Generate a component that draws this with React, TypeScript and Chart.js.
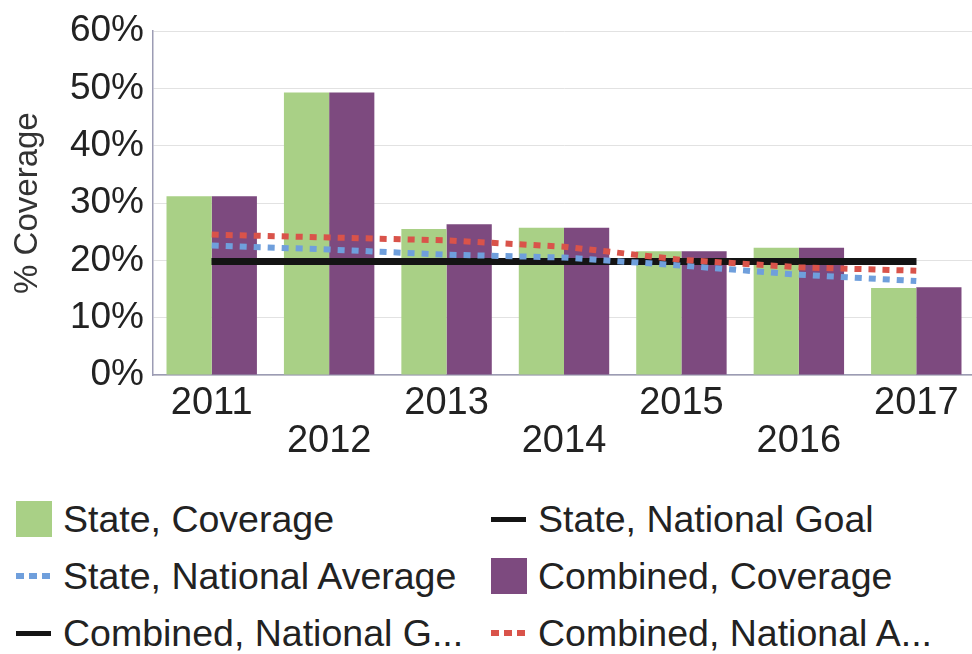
import React, { useEffect, useRef } from 'react';
import { Chart, registerables } from 'chart.js';
Chart.register(...registerables);

const years = ['2011', '2012', '2013', '2014', '2015', '2016', '2017'];
const stateCoverage = [31.2, 49.3, 25.5, 25.7, 21.6, 22.2, 15.2];
const combinedCoverage = [31.2, 49.3, 26.3, 25.7, 21.6, 22.2, 15.3];
const stateGoal = [19.8, 19.8, 19.8, 19.8, 19.8, 19.8, 19.8];
const combinedGoal = [19.8, 19.8, 19.8, 19.8, 19.8, 19.8, 19.8];
const stateAverage = [22.6, 21.9, 21.0, 20.5, 19.1, 17.5, 16.4];
const combinedAverage = [24.5, 24.0, 23.5, 22.4, 20.1, 18.8, 18.2];
const yMin = 0;
const yMax = 60;
const yStep = 10;

const legendItems = [
  { label: 'State, Coverage', kind: 'box', color: '#a9d086' },
  { label: 'State, National Goal', kind: 'line', color: '#141414' },
  { label: 'State, National Average', kind: 'dots', color: '#6f9fdc' },
  { label: 'Combined, Coverage', kind: 'box', color: '#7d4a7f' },
  { label: 'Combined, National G...', kind: 'line', color: '#141414' },
  { label: 'Combined, National A...', kind: 'dots', color: '#d9534a' },
];

const FONT = "'Liberation Sans', Arial, sans-serif";

function Marker({ kind, color }: { kind: string; color: string }) {
  if (kind === 'box') {
    return <div style={{ width: 36, height: 36, background: color, flex: '0 0 auto' }} />;
  }
  if (kind === 'line') {
    return (
      <div style={{ width: 36, height: 36, display: 'flex', alignItems: 'center', flex: '0 0 auto' }}>
        <div style={{ width: 35, height: 5, background: color }} />
      </div>
    );
  }
  return (
    <div style={{ width: 36, height: 36, display: 'flex', alignItems: 'center', flex: '0 0 auto' }}>
      <div
        style={{
          width: 34,
          height: 6,
          background: `repeating-linear-gradient(to right, ${color} 0px, ${color} 8px, transparent 8px, transparent 13px)`,
        }}
      />
    </div>
  );
}

export default function App() {
  const canvasRef = useRef<HTMLCanvasElement | null>(null);

  useEffect(() => {
    document.body.style.margin = '0';
    const canvas = canvasRef.current;
    if (!canvas) return;
    const chart = new Chart(canvas, {
      type: 'bar',
      data: {
        labels: years,
        datasets: [
          {
            type: 'line',
            label: 'Combined, National Average',
            data: combinedAverage,
            borderColor: '#d9534a',
            borderWidth: 6,
            borderDash: [7, 7],
            borderCapStyle: 'butt',
            pointRadius: 0,
            tension: 0,
            fill: false,
            order: 0,
          },
          {
            type: 'line',
            label: 'State, National Average',
            data: stateAverage,
            borderColor: '#6f9fdc',
            borderWidth: 6,
            borderDash: [7, 7],
            borderCapStyle: 'butt',
            pointRadius: 0,
            tension: 0,
            fill: false,
            order: 1,
          },
          {
            type: 'line',
            label: 'State, National Goal',
            data: stateGoal,
            borderColor: '#141414',
            borderWidth: 7,
            borderCapStyle: 'butt',
            pointRadius: 0,
            fill: false,
            order: 2,
          },
          {
            type: 'line',
            label: 'Combined, National Goal',
            data: combinedGoal,
            borderColor: '#141414',
            borderWidth: 7,
            borderCapStyle: 'butt',
            pointRadius: 0,
            fill: false,
            order: 2,
          },
          {
            type: 'bar',
            label: 'State, Coverage',
            data: stateCoverage,
            backgroundColor: '#a9d086',
            categoryPercentage: 0.77,
            barPercentage: 1.0,
            order: 5,
          },
          {
            type: 'bar',
            label: 'Combined, Coverage',
            data: combinedCoverage,
            backgroundColor: '#7d4a7f',
            categoryPercentage: 0.77,
            barPercentage: 1.0,
            order: 5,
          },
        ],
      },
      options: {
        responsive: false,
        animation: false,
        layout: { padding: { top: 12, left: 0, right: 0, bottom: 0 } },
        plugins: {
          legend: { display: false },
          tooltip: { enabled: false },
        },
        scales: {
          x: {
            grid: { display: false, drawTicks: false },
            border: { display: true, color: '#9c9cb4', width: 1.5 },
            ticks: {
              autoSkip: false,
              maxRotation: 0,
              minRotation: 0,
              padding: 10,
              color: '#222',
              font: { family: FONT, size: 38, lineHeight: 1.0 },
              callback: function (this: any, value: any, index: number) {
                const lbl = years[index];
                return index % 2 === 1 ? ['', lbl] : lbl;
              },
            },
          },
          y: {
            min: yMin,
            max: yMax,
            afterFit: (scale: any) => {
              scale.width = 153;
            },
            grid: { color: '#e2e2e2', lineWidth: 1, drawTicks: false },
            border: { display: true, color: '#9c9cb4', width: 1.5 },
            ticks: {
              stepSize: yStep,
              padding: 9,
              color: '#222',
              font: { family: FONT, size: 37 },
              callback: (v: any) => v + '%',
            },
            title: {
              display: true,
              text: '% Coverage',
              color: '#333',
              font: { family: FONT, size: 33 },
              padding: { top: 8, bottom: 0 },
            },
          },
        },
      },
    });
    return () => chart.destroy();
  }, []);

  return (
    <div style={{ width: 972, height: 654, overflow: 'hidden', fontFamily: FONT }}>
      <canvas ref={canvasRef} width={975} height={471} style={{ display: 'block' }} />
      <div style={{ position: 'relative', height: 183 }}>
        {legendItems.map((item, i) => {
          const col = i % 2;
          const row = Math.floor(i / 2);
          return (
            <div
              key={item.label}
              style={{
                position: 'absolute',
                left: col === 0 ? 16 : 491,
                top: 48 + row * 57 - 18,
                height: 36,
                display: 'flex',
                alignItems: 'center',
                whiteSpace: 'nowrap',
              }}
            >
              <Marker kind={item.kind} color={item.color} />
              <span style={{ marginLeft: 11, fontSize: 37.5, color: '#222', lineHeight: '36px' }}>{item.label}</span>
            </div>
          );
        })}
      </div>
    </div>
  );
}
